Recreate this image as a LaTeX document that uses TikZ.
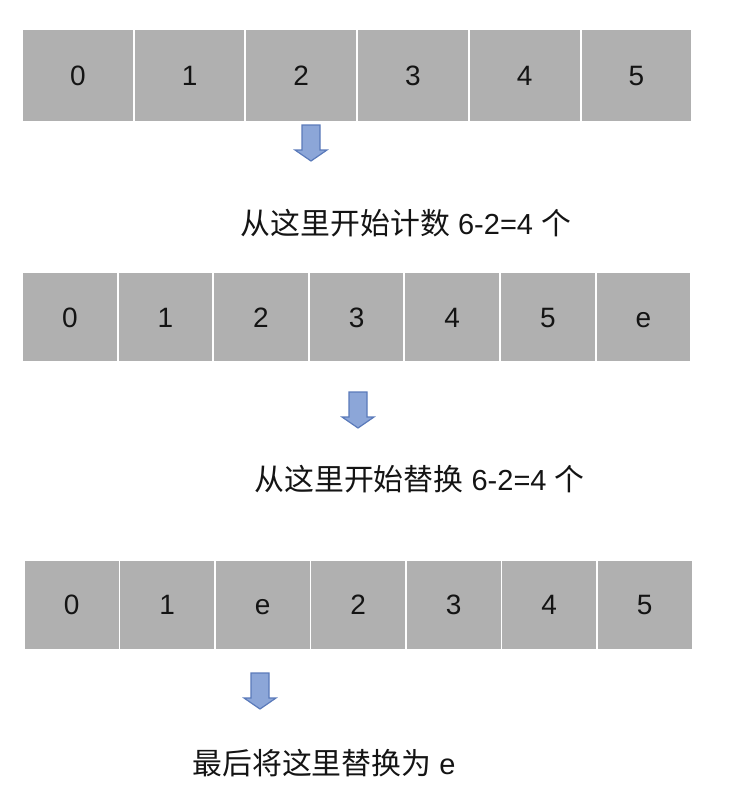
\documentclass[tikz,border=0pt]{standalone}
\usepackage{fontspec}
\setmainfont{Liberation Sans}
\newfontfamily\cjk{Noto Sans CJK SC}[Scale=1.03]
\definecolor{cellgray}{RGB}{176,176,176}
\definecolor{arrfill}{RGB}{140,166,216}
\definecolor{arredge}{RGB}{90,122,186}
\definecolor{txt}{RGB}{20,20,20}
\begin{document}
\begin{tikzpicture}[x=1pt,y=-1pt,
  cell/.style={rectangle,fill=cellgray,draw=none,inner sep=0pt,text=txt,
    text height=20pt,text depth=0pt,
    font=\fontsize{28}{33}\selectfont},
  cellA/.style={cell,minimum width=109.7pt,minimum height=91pt},
  cellB/.style={cell,minimum width=93.6pt,minimum height=88pt},
  caption/.style={inner sep=0pt,text=txt,font=\fontsize{29}{34}\selectfont},
  blockarrow/.pic={\draw[fill=arrfill,draw=arredge,line width=1.2pt,line join=miter]
    (-9,0) -- (9,0) -- (9,25) -- (16,25) -- (0,36) -- (-16,25) -- (-9,25) -- cycle;}
]
\useasboundingbox (0,0) rectangle (730,806);
% row 1
\foreach \i/\t in {0/0,1/1,2/2,3/3,4/4,5/5}{
  \node[cellA] (a\i) at ({22+111.7*\i+55.85},75.5) {\t};
}
% row 2
\foreach \i/\t in {0/0,1/1,2/2,3/3,4/4,5/5,6/e}{
  \node[cellB] (b\i) at ({22+95.6*\i+47.8},317) {\t};
}
% row 3
\foreach \i/\t in {0/0,1/1,2/e,3/2,4/3,5/4,6/5}{
  \node[cellB] (c\i) at ({24+95.5*\i+47.75},604.5) {\t};
}
% arrows
\coordinate (p1) at (311,125);
\coordinate (p2) at (358,392);
\coordinate (p3) at (260,673);
\pic at (p1) {blockarrow};
\pic at (p2) {blockarrow};
\pic at (p3) {blockarrow};
% captions
\node[caption] (t1) at (406,223) {{\cjk 从这里开始计数} 6-2=4 {\cjk 个}};
\node[caption] (t2) at (419.5,479) {{\cjk 从这里开始替换} 6-2=4 {\cjk 个}};
\node[caption] (t3) at (324,763) {{\cjk 最后将这里替换为} e};
\end{tikzpicture}
\end{document}
